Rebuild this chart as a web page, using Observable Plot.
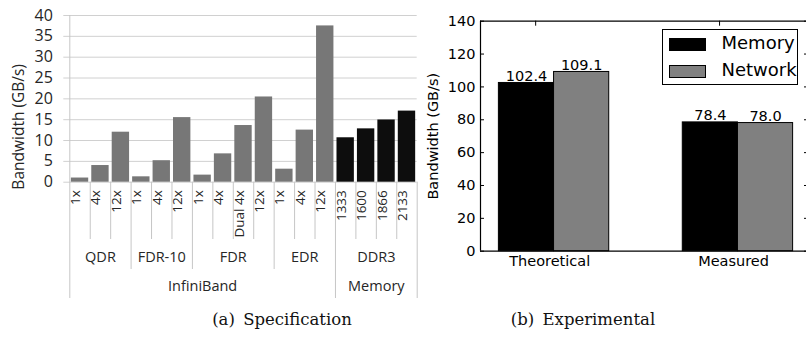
<!DOCTYPE html>
<html><head><meta charset="utf-8">
<script src="https://cdn.jsdelivr.net/npm/d3@7"></script>
<script src="https://cdn.jsdelivr.net/npm/@observablehq/plot@0.6"></script>
<style>
body{margin:0;background:#fff;}
#fig{position:relative;width:806px;height:337px;overflow:hidden;background:#fff;}
#left,#right{position:absolute;top:0;}
#left{left:0;width:420px;} #right{left:400px;width:420px;}
#left svg,#right svg{max-width:none !important;width:420px;}
.cap{position:absolute;top:311px;font-family:"DejaVu Serif";font-size:16.5px;line-height:17px;white-space:nowrap;transform:translateX(-50%);color:#111;}
#legend{position:absolute;left:661.5px;top:29px;width:134px;height:54px;border:1px solid #000;background:#fff;font-family:"DejaVu Sans";font-size:18px;}
.lrow{position:absolute;left:6px;height:14px;}
.sw{position:absolute;left:0;top:0;width:37px;height:13px;border:1px solid #000;box-sizing:border-box;}
.lt{position:absolute;left:53px;top:-6px;line-height:22px;white-space:nowrap;}
</style></head>
<body><div id="fig">
<div id="left"></div><div id="right"></div>
<div class="cap" style="left:282px">(a)&ensp;Specification</div>
<div class="cap" style="left:583px">(b)&ensp;Experimental</div>
<div id="legend"></div>
</div>
<script>
// ---------- (a) Specification data ----------
const specCategories = ["1x","4x","12x","1x","4x","12x","1x","4x","Dual 4x","12x","1x","4x","12x","1333","1600","1866","2133"];
const specGroups = ["QDR","QDR","QDR","FDR-10","FDR-10","FDR-10","FDR","FDR","FDR","FDR","EDR","EDR","EDR","DDR3","DDR3","DDR3","DDR3"];
const specFamilies = ["InfiniBand","InfiniBand","InfiniBand","InfiniBand","InfiniBand","InfiniBand","InfiniBand","InfiniBand","InfiniBand","InfiniBand","InfiniBand","InfiniBand","InfiniBand","Memory","Memory","Memory","Memory"];
const specValues = [1.0, 4.0, 12.0, 1.29, 5.16, 15.5, 1.7, 6.8, 13.6, 20.45, 3.125, 12.5, 37.5, 10.66, 12.8, 14.93, 17.06];
const specYTicks = [0, 5, 10, 15, 20, 25, 30, 35, 40];
const specYLabel = "Bandwidth (GB/s)";

// ---------- (b) Experimental data ----------
const expGroups = ["Theoretical", "Measured"];
const expSeries = ["Memory", "Network"];
const expMemory = [102.4, 78.4];
const expNetwork = [109.1, 78.0];
const expYTicks = [0, 20, 40, 60, 80, 100, 120, 140];
const expXTicks = [0.2, 1.2];
const expYLabel = "Bandwidth (GB/s)";

// ---------- styles ----------
const familyColor = {InfiniBand: "#777777", Memory: "#0d0d0d"};
const seriesColor = {Memory: "#000000", Network: "#808080"};
const sepColor = "#c6c6c6";
const txt = "#262626";

// ---------- left chart ----------
const n = specCategories.length;
const L = {w: 420, h: 305, left: 69.3, right: 416.7, top: 15, bottom: 181.7};
const frameH = L.bottom - L.top;
const rows = d3.range(n).map(i => ({i, cat: specCategories[i], group: specGroups[i], family: specFamilies[i], value: specValues[i]}));
const bounds = d3.range(n + 1).map(b => {
  let level;
  if (b === 0 || b === n || specFamilies[b] !== specFamilies[b - 1]) level = 3;
  else if (specGroups[b] !== specGroups[b - 1]) level = 2;
  else level = 1;
  return {b, level};
});
function spans(keys) {
  const out = [];
  keys.forEach((k, i) => {
    if (out.length && out[out.length - 1].name === k) out[out.length - 1].end = i + 1;
    else out.push({name: k, start: i, end: i + 1});
  });
  return out;
}
const groupSpans = spans(specGroups);
const familySpans = spans(specFamilies);
const depth = {1: 57.3, 2: 87.3, 3: 116.3};

const left = Plot.plot({
  width: L.w, height: L.h,
  marginLeft: L.left, marginRight: L.w - L.right, marginTop: L.top, marginBottom: L.h - L.bottom,
  x: {domain: [0, n], axis: null},
  y: {domain: [0, 40], axis: null},
  style: {fontFamily: "Open Sans", fontSize: "16px", color: txt, background: "transparent", maxWidth: "none"},
  marks: [
    Plot.ruleY(specYTicks, {y: d => d, stroke: "#d0d0d0", insetLeft: -6}),
    Plot.axisY({ticks: specYTicks, tickSize: 0, tickPadding: 17, label: null, fill: txt, fontSize: 16}),
    Plot.rectY(rows, {x1: d => d.i + 0.075, x2: d => d.i + 0.925, y: "value", fill: d => familyColor[d.family]}),
    Plot.ruleX([0], {x: d => d, stroke: sepColor, insetBottom: -depth[3]}),
    Plot.ruleX(bounds.filter(d => d.level === 1), {x: "b", stroke: sepColor, insetTop: frameH, insetBottom: -depth[1]}),
    Plot.ruleX(bounds.filter(d => d.level === 2), {x: "b", stroke: sepColor, insetTop: frameH, insetBottom: -depth[2]}),
    Plot.ruleX(bounds.filter(d => d.level === 3 && d.b > 0), {x: "b", stroke: sepColor, insetTop: frameH, insetBottom: -depth[3]}),
    Plot.text(rows, {x: d => d.i + 0.5, frameAnchor: "bottom", text: "cat", rotate: -90, textAnchor: "end", dy: 8, fontSize: 13.5, fill: txt}),
    Plot.text(groupSpans, {x: d => (d.start + d.end) / 2, frameAnchor: "bottom", text: "name", dy: 80, fontSize: 14.5, fill: txt}),
    Plot.text(familySpans, {x: d => (d.start + d.end) / 2, frameAnchor: "bottom", text: "name", dy: 108.5, fontSize: 14.5, fill: txt}),
    Plot.text([specYLabel], {text: d => d, frameAnchor: "left", textAnchor: "middle", rotate: -90, dx: -51, dy: 28, fontSize: 15.5, fill: txt})
  ]
});
document.getElementById("left").appendChild(left);

// ---------- right chart ----------
const barW = 0.3;
const expXDomain = [-0.1, 1.7];
const expYDomain = [0, 140];
const expValues = {Memory: expMemory, Network: expNetwork};
const bars = [];
expGroups.forEach((g, gi) => expSeries.forEach((s, si) => {
  const x1 = gi + si * barW;
  bars.push({group: g, series: s, value: expValues[s][gi], x1, x2: x1 + barW});
}));
const xLabels = expGroups.map((g, i) => ({name: g, pos: expXTicks[i]}));

const right = Plot.plot({
  width: 420, height: 300,
  marginLeft: 80, marginRight: 9, marginTop: 20.7, marginBottom: 49.3,
  x: {domain: expXDomain, axis: null},
  y: {domain: expYDomain, axis: null},
  style: {fontFamily: "DejaVu Sans", fontSize: "14px", color: "black", background: "transparent", maxWidth: "none"},
  marks: [
    Plot.rect(bars, {x1: "x1", x2: "x2", y1: 0, y2: "value", fill: d => seriesColor[d.series], stroke: "black", strokeWidth: 1}),
    Plot.text(bars, {x: d => (d.x1 + d.x2) / 2, y: "value", text: d => d.value.toFixed(1), dy: -2, lineAnchor: "bottom", fontSize: 14.5}),
    // spines
    Plot.ruleX(expXDomain, {x: d => d, stroke: "black", strokeWidth: 1.2}),
    Plot.ruleY(expYDomain, {y: d => d, stroke: "black", strokeWidth: 1.2}),
    // inward ticks
    Plot.ruleY(expYTicks, {y: d => d, x1: expXDomain[0], x2: expXDomain[0], insetRight: -4, stroke: "black"}),
    Plot.ruleY(expYTicks, {y: d => d, x1: expXDomain[1], x2: expXDomain[1], insetLeft: -7, stroke: "black"}),
    Plot.ruleX(expXTicks, {x: d => d, y1: expYDomain[1], y2: expYDomain[1], insetBottom: -5, stroke: "black"}),
    Plot.axisY({ticks: expYTicks, tickSize: 0, tickPadding: 5, label: null, fontSize: 14.5}),
    Plot.text(xLabels, {x: "pos", text: "name", frameAnchor: "bottom", dy: 5, dx: 14, lineAnchor: "top", fontSize: 14.5}),
    Plot.text([expYLabel], {text: d => d, frameAnchor: "left", textAnchor: "middle", rotate: -90, dx: -47, fontSize: 14.5})
  ]
});
document.getElementById("right").appendChild(right);

// ---------- legend ----------
const legend = document.getElementById("legend");
expSeries.forEach((s, i) => {
  const row = document.createElement("div");
  row.className = "lrow";
  row.style.top = (8 + i * 26.5) + "px";
  const sw = document.createElement("div");
  sw.className = "sw";
  sw.style.background = seriesColor[s];
  const t = document.createElement("div");
  t.className = "lt";
  t.textContent = s;
  row.appendChild(sw); row.appendChild(t);
  legend.appendChild(row);
});
</script>
</body></html>
